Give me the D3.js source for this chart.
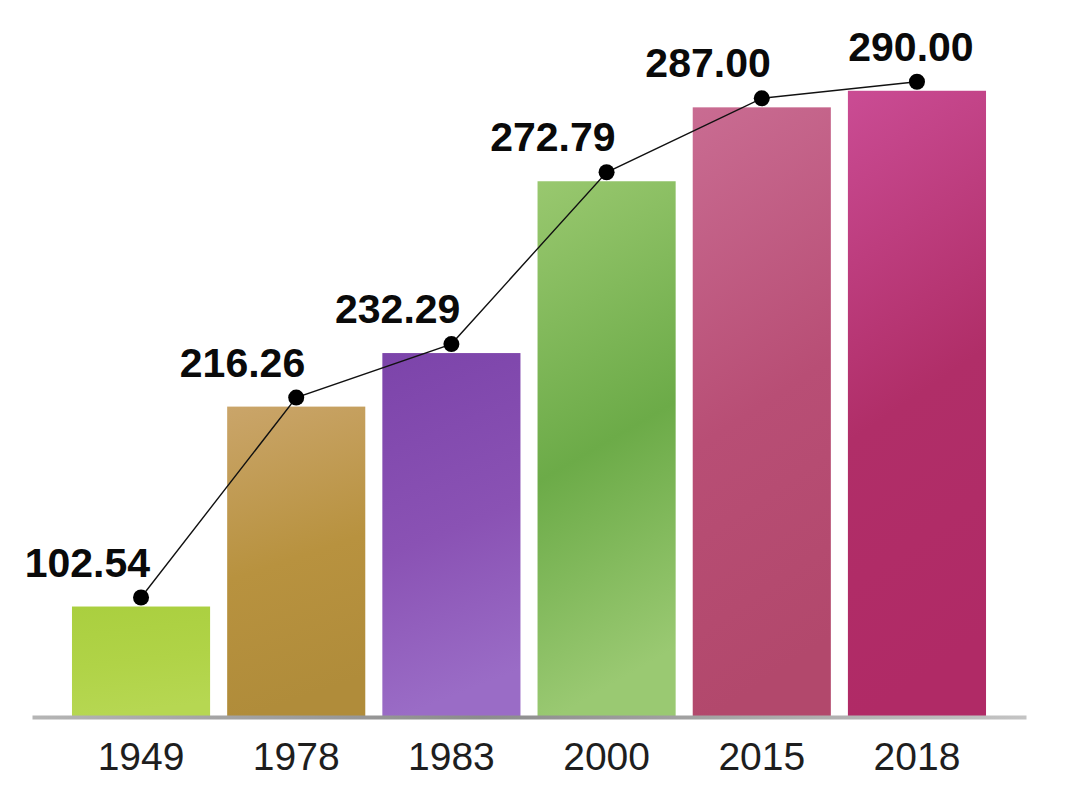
<!DOCTYPE html>
<html>
<head>
<meta charset="utf-8">
<script src="https://cdn.jsdelivr.net/npm/d3@7"></script>
<style>
  html, body { margin: 0; padding: 0; background: #ffffff; }
  svg { display: block; }
</style>
</head>
<body>
<div id="chart"></div>
<script>
// ---- data ----
const years = ["1949", "1978", "1983", "2000", "2015", "2018"];
const values = [102.54, 216.26, 232.29, 272.79, 287.00, 290.00];
const barTopColors = ["#aacf3f", "#caa56a", "#7c44aa", "#99c86f", "#c96c92", "#ca4c94"];
const barMidColors = ["#b0d347", "#b8923f", "#8a52b4", "#6cab48", "#b84e75", "#b02e68"];
const barBottomColors = ["#b6d752", "#b08c3a", "#9a6cc6", "#9ac972", "#b2486c", "#b02a66"];

const W = 1080, H = 797;
const svg = d3.select("#chart").append("svg")
  .attr("width", W).attr("height", H)
  .style("font-family", "'Liberation Sans', Arial, sans-serif");

const baseline = 717;
const x = d3.scaleBand()
  .domain(years)
  .range([32, 1026])
  .paddingInner(0.11)
  .paddingOuter(0.2576);

// the original chart is not drawn to a linear scale; a cubic scale reproduces it
const y = d3.scalePow().exponent(3)
  .domain([-157, 300])
  .range([baseline - 1, 33]);
const yBase = y.range()[0];

const defs = svg.append("defs");
years.forEach((yr, i) => {
  const g = defs.append("linearGradient")
    .attr("id", "g" + i)
    .attr("x1", "0").attr("y1", "0").attr("x2", "0.15").attr("y2", "1");
  g.append("stop").attr("offset", "0%").attr("stop-color", barTopColors[i]);
  g.append("stop").attr("offset", "55%").attr("stop-color", barMidColors[i]);
  g.append("stop").attr("offset", "100%").attr("stop-color", barBottomColors[i]);
});
const ag = defs.append("linearGradient")
  .attr("id", "axisGrad")
  .attr("gradientUnits", "userSpaceOnUse")
  .attr("x1", 32).attr("y1", 0).attr("x2", 1026).attr("y2", 0);
ag.append("stop").attr("offset", "0%").attr("stop-color", "#b5b5b5");
ag.append("stop").attr("offset", "45%").attr("stop-color", "#8c8c8c");
ag.append("stop").attr("offset", "100%").attr("stop-color", "#c4c4c4");

// bars
svg.append("g").selectAll("rect")
  .data(values)
  .join("rect")
  .attr("x", (d, i) => x(years[i]))
  .attr("width", x.bandwidth())
  .attr("y", d => y(d))
  .attr("height", d => yBase - y(d))
  .attr("fill", (d, i) => `url(#g${i})`);

// axis
const axis = svg.append("g")
  .attr("transform", `translate(0,${baseline})`)
  .call(d3.axisBottom(x).tickSize(0).tickPadding(25));
axis.select(".domain")
  .attr("stroke", "url(#axisGrad)")
  .attr("stroke-width", 4);
axis.selectAll("text")
  .attr("font-size", 39)
  .attr("fill", "#1e1e1e")
  .style("font-family", "'Liberation Sans', Arial, sans-serif");

// line + dots
const pts = values.map((v, i) => [x(years[i]) + x.bandwidth() / 2, y(v) - 9]);
svg.append("path")
  .datum(pts)
  .attr("d", d3.line())
  .attr("fill", "none")
  .attr("stroke", "#111")
  .attr("stroke-width", 1.4);

svg.append("g").selectAll("circle")
  .data(pts)
  .join("circle")
  .attr("cx", d => d[0])
  .attr("cy", d => d[1])
  .attr("r", 8)
  .attr("fill", "#000");

// value labels
const last = values.length - 1;
svg.append("g").selectAll("text")
  .data(values)
  .join("text")
  .attr("x", (d, i) => i === last ? pts[i][0] - 6 : pts[i][0] + 9)
  .attr("y", (d, i) => pts[i][1] - 21)
  .attr("text-anchor", (d, i) => i === last ? "middle" : "end")
  .attr("font-size", 41)
  .attr("font-weight", "bold")
  .attr("fill", "#0a0a0a")
  .text(d => d.toFixed(2));
</script>
</body>
</html>
